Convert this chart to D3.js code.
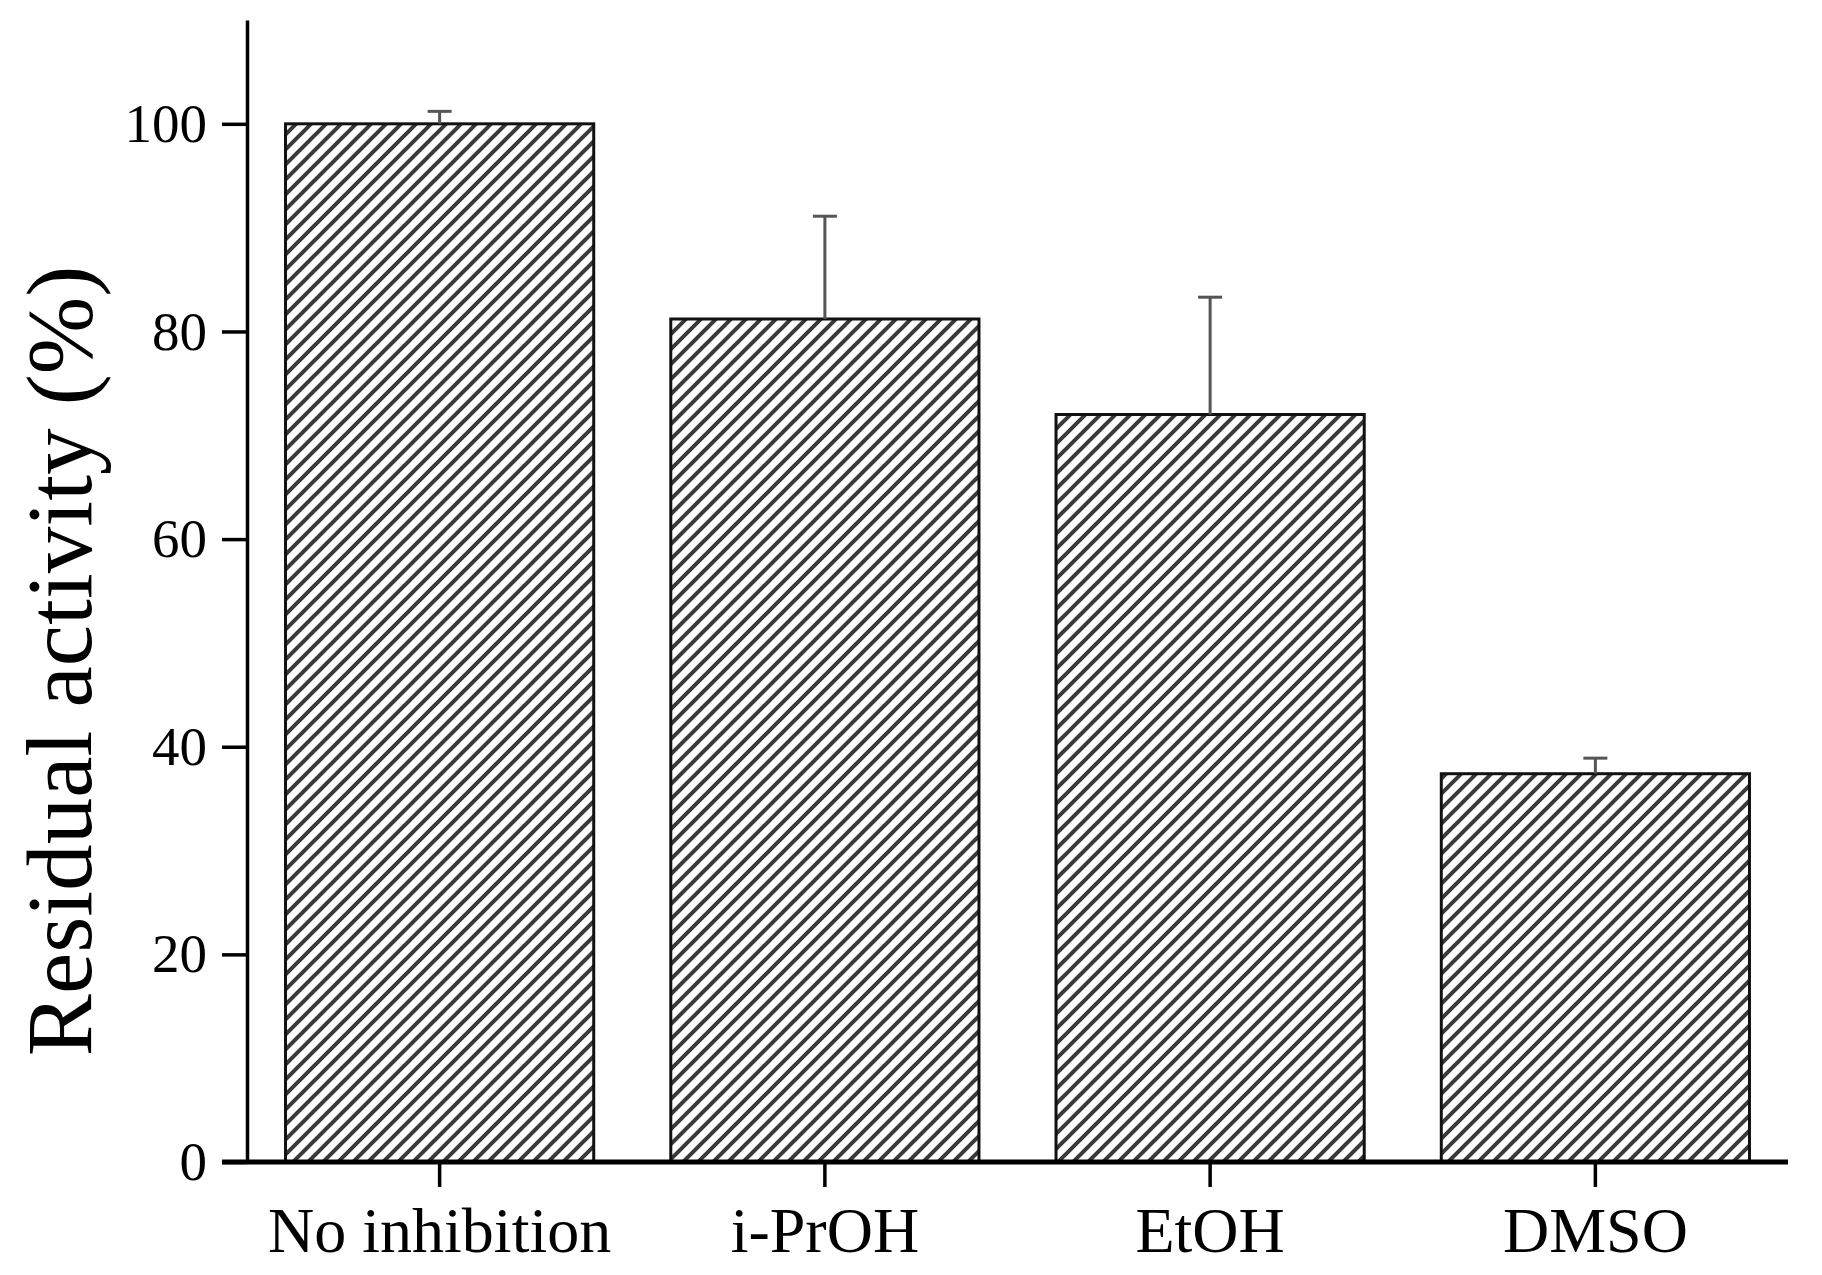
<!DOCTYPE html>
<html>
<head>
<meta charset="utf-8">
<script src="https://cdn.jsdelivr.net/npm/d3@7"></script>
<style>
  html, body { margin: 0; padding: 0; background: #fff; }
  svg { display: block; }
  text { font-family: "Liberation Serif", "Times New Roman", serif; fill: #000; }
</style>
</head>
<body>
<svg id="chart" width="1822" height="1275"></svg>
<script>
// ---- data ----
const categories = ["No inhibition", "i-PrOH", "EtOH", "DMSO"];
const values = [100, 81.2, 72.0, 37.4];
const errors = [1.2, 9.9, 11.3, 1.5];
const yTicks = [0, 20, 40, 60, 80, 100];
const yLabel = "Residual activity (%)";

(function () {
  // ---- layout ----
  const mLeft = 247, mRight = 1788, mTop = 20, mBottom = 1162;
  const tickLen = 25;

  const svg = d3.select("#chart");

  // hatch pattern
  const defs = svg.append("defs");
  const p = 15;
  const pat = defs.append("pattern")
    .attr("id", "hatch")
    .attr("patternUnits", "userSpaceOnUse")
    .attr("width", p).attr("height", p);
  pat.append("rect").attr("width", p).attr("height", p).attr("fill", "#fff");
  pat.append("path")
    .attr("d", `M0,${p} L${p},0 M${-p/4},${p/4} L${p/4},${-p/4} M${p*3/4},${p*5/4} L${p*5/4},${p*3/4}`)
    .attr("stroke", "#3a3a3a")
    .attr("stroke-width", 4)
    .attr("stroke-linecap", "square");

  const x = d3.scaleBand()
    .domain(categories)
    .range([mLeft, mRight])
    .paddingInner(0.2)
    .paddingOuter(0.1);

  const y = d3.scaleLinear()
    .domain([0, 110])
    .range([mBottom, mTop]);

  const data = categories.map((c, i) => ({ c, v: values[i], e: errors[i] }));

  // bars
  svg.append("g").selectAll("rect")
    .data(data)
    .join("rect")
    .attr("x", d => x(d.c))
    .attr("y", d => y(d.v))
    .attr("width", x.bandwidth())
    .attr("height", d => y(0) - y(d.v))
    .attr("fill", "url(#hatch)")
    .attr("stroke", "#111")
    .attr("stroke-width", 3);

  // error bars (upper only)
  const capW = 24;
  const cx = d => x(d.c) + x.bandwidth() / 2;
  const eb = svg.append("g").attr("stroke", "#555").attr("stroke-width", 3).attr("fill", "none");
  eb.selectAll("line.v")
    .data(data)
    .join("line")
    .attr("class", "v")
    .attr("x1", cx).attr("x2", cx)
    .attr("y1", d => y(d.v))
    .attr("y2", d => y(d.v + d.e));
  eb.selectAll("line.cap")
    .data(data)
    .join("line")
    .attr("class", "cap")
    .attr("x1", d => cx(d) - capW / 2)
    .attr("x2", d => cx(d) + capW / 2)
    .attr("y1", d => y(d.v + d.e))
    .attr("y2", d => y(d.v + d.e));

  // y axis
  const yAxis = svg.append("g")
    .attr("transform", `translate(${mLeft},0)`)
    .call(d3.axisLeft(y).tickValues(yTicks).tickSizeInner(tickLen).tickSizeOuter(0).tickPadding(15));
  yAxis.select(".domain").attr("stroke", "#000").attr("stroke-width", 3.5);
  yAxis.selectAll(".tick line").attr("stroke", "#000").attr("stroke-width", 3.5);
  yAxis.selectAll(".tick text")
    .attr("font-size", 55)
    .attr("font-family", "Liberation Serif, serif")
    .attr("fill", "#000");

  // x axis
  const xAxis = svg.append("g")
    .attr("transform", `translate(0,${mBottom})`)
    .call(d3.axisBottom(x).tickSizeInner(tickLen).tickSizeOuter(0).tickPadding(20));
  xAxis.select(".domain").remove();
  xAxis.append("line")
    .attr("x1", mLeft - tickLen).attr("x2", mRight)
    .attr("y1", 0).attr("y2", 0)
    .attr("stroke", "#000").attr("stroke-width", 5);
  xAxis.selectAll(".tick line").attr("stroke", "#000").attr("stroke-width", 3.5);
  xAxis.selectAll(".tick text")
    .attr("font-size", 64)
    .attr("font-family", "Liberation Serif, serif")
    .attr("fill", "#000");

  // y label
  svg.append("text")
    .attr("transform", `translate(91,661) rotate(-90)`)
    .attr("text-anchor", "middle")
    .attr("font-size", 93)
    .text(yLabel);
})();
</script>
</body>
</html>
